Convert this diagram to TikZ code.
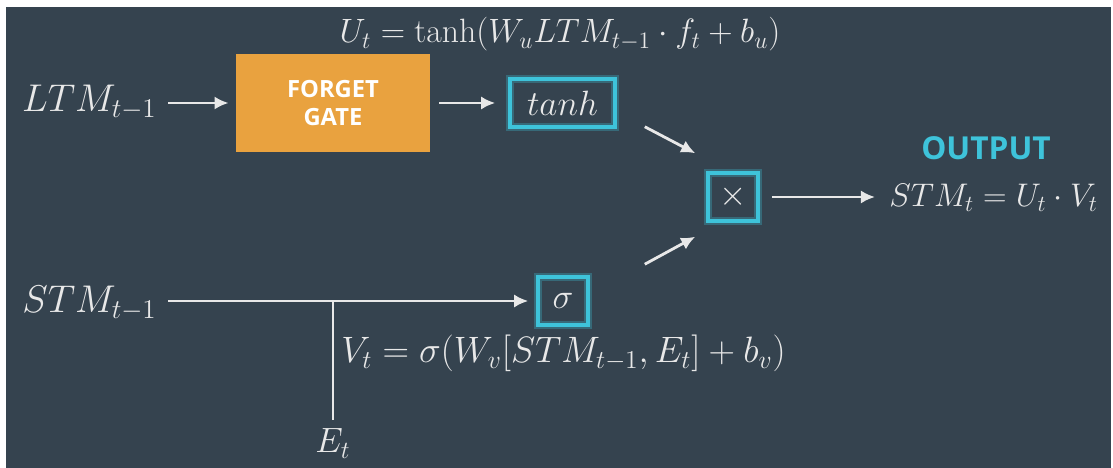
\RequirePackage{fix-cm}
\documentclass[tikz,border=0pt]{standalone}
\usepackage{amsmath}
\usepackage{fontspec}
\newfontfamily\capsfont{Open Sans}
\usetikzlibrary{arrows.meta}
\definecolor{slate}{HTML}{35434F}
\definecolor{gateorange}{HTML}{E9A23F}
\definecolor{boxcyan}{HTML}{3EC3DA}
\definecolor{chalk}{HTML}{E8E8E8}

\begin{document}
\begin{tikzpicture}[line width=1.6pt,>={Latex[length=8pt,width=7.5pt]}]
  \tikzstyle{term}=[text=chalk,font=\fontsize{22}{26}\selectfont,inner sep=0pt]
  \tikzstyle{formula}=[text=chalk,font=\fontsize{20}{24}\selectfont,inner sep=0pt]
  \tikzstyle{gate}=[fill=gateorange,minimum width=3.88cm,minimum height=1.96cm,text=white,align=center,font=\capsfont\bfseries\fontsize{13.5}{16}\selectfont]
  \tikzstyle{op}=[draw=boxcyan,line width=2pt,minimum width=1cm,minimum height=0.96cm,text=chalk,font=\fontsize{20}{24}\selectfont,preaction={draw=boxcyan,draw opacity=0.3,line width=4.5pt}]
  \tikzstyle{flow}=[draw=chalk,->]
  \useasboundingbox (0,0) rectangle (22.26,9.36);
  \fill[slate] (0.12,0) rectangle (22.22,9.22);
  % inputs
  \node[term,anchor=base east] (L_in) at (3.16,7.12) {$LTM_{t-1}$};
  \node[term,anchor=base east] (S_in) at (3.16,3.10) {$STM_{t-1}$};
  \node[formula,anchor=base] (E_in) at (6.66,0.30) {$E_t$};
  \coordinate (J) at (6.66,3.34);
  % gates
  \node[gate] (F_gate) at (6.66,7.30) {FORGET\\GATE};
  \node[op,minimum width=2.1cm] (T_box) at (11.25,7.30) {$tanh$};
  \node[op] (S_box) at (11.26,3.34) {$\sigma$};
  \node[op] (M_box) at (14.66,5.42) {$\times$};
  % output
  \node[formula,anchor=base west,font=\fontsize{18.6}{22}\selectfont] (S_out) at (17.76,5.22) {$STM_t = U_t \cdot V_t$};
  \node[text=boxcyan,font=\capsfont\bfseries\fontsize{18}{22}\selectfont] (O_lbl) at (19.72,6.40) {OUTPUT};
  % equations
  \node[formula,anchor=base,font=\fontsize{19.2}{23}\selectfont] (U_eq) at (11.2,8.50) {$U_t = \tanh(W_u LTM_{t-1} \cdot f_t + b_u)$};
  \node[formula,anchor=base west,font=\fontsize{20.9}{25}\selectfont] (V_eq) at (6.8,2.10) {$V_t = \sigma(W_v[STM_{t-1}, E_t] + b_v)$};
  % connections
  \draw[flow,shorten <=0.2cm,shorten >=0.12cm] (L_in.east |- F_gate.west) -- (F_gate.west);
  \draw[flow,shorten <=0.16cm,shorten >=0.26cm] (F_gate.east |- T_box.west) -- (T_box.west);
  \draw[flow] ([shift={(0.56,0.04)}]T_box.south east) -- ([shift={(-0.22,0.36)}]M_box.north west);
  \draw[flow] ([shift={(1.1,0.22)}]S_box.north east) -- ([shift={(-0.22,-0.28)}]M_box.south west);
  \draw[flow,shorten <=0.24cm,shorten >=0.26cm] (M_box.east) -- (M_box.east -| S_out.west);
  \draw[flow,shorten <=0.2cm,shorten >=0.16cm] (S_in.east |- S_box.west) -- (S_box.west);
  \draw[draw=chalk,shorten >=0.16cm] (J) -- (E_in.north);
\end{tikzpicture}
\end{document}
